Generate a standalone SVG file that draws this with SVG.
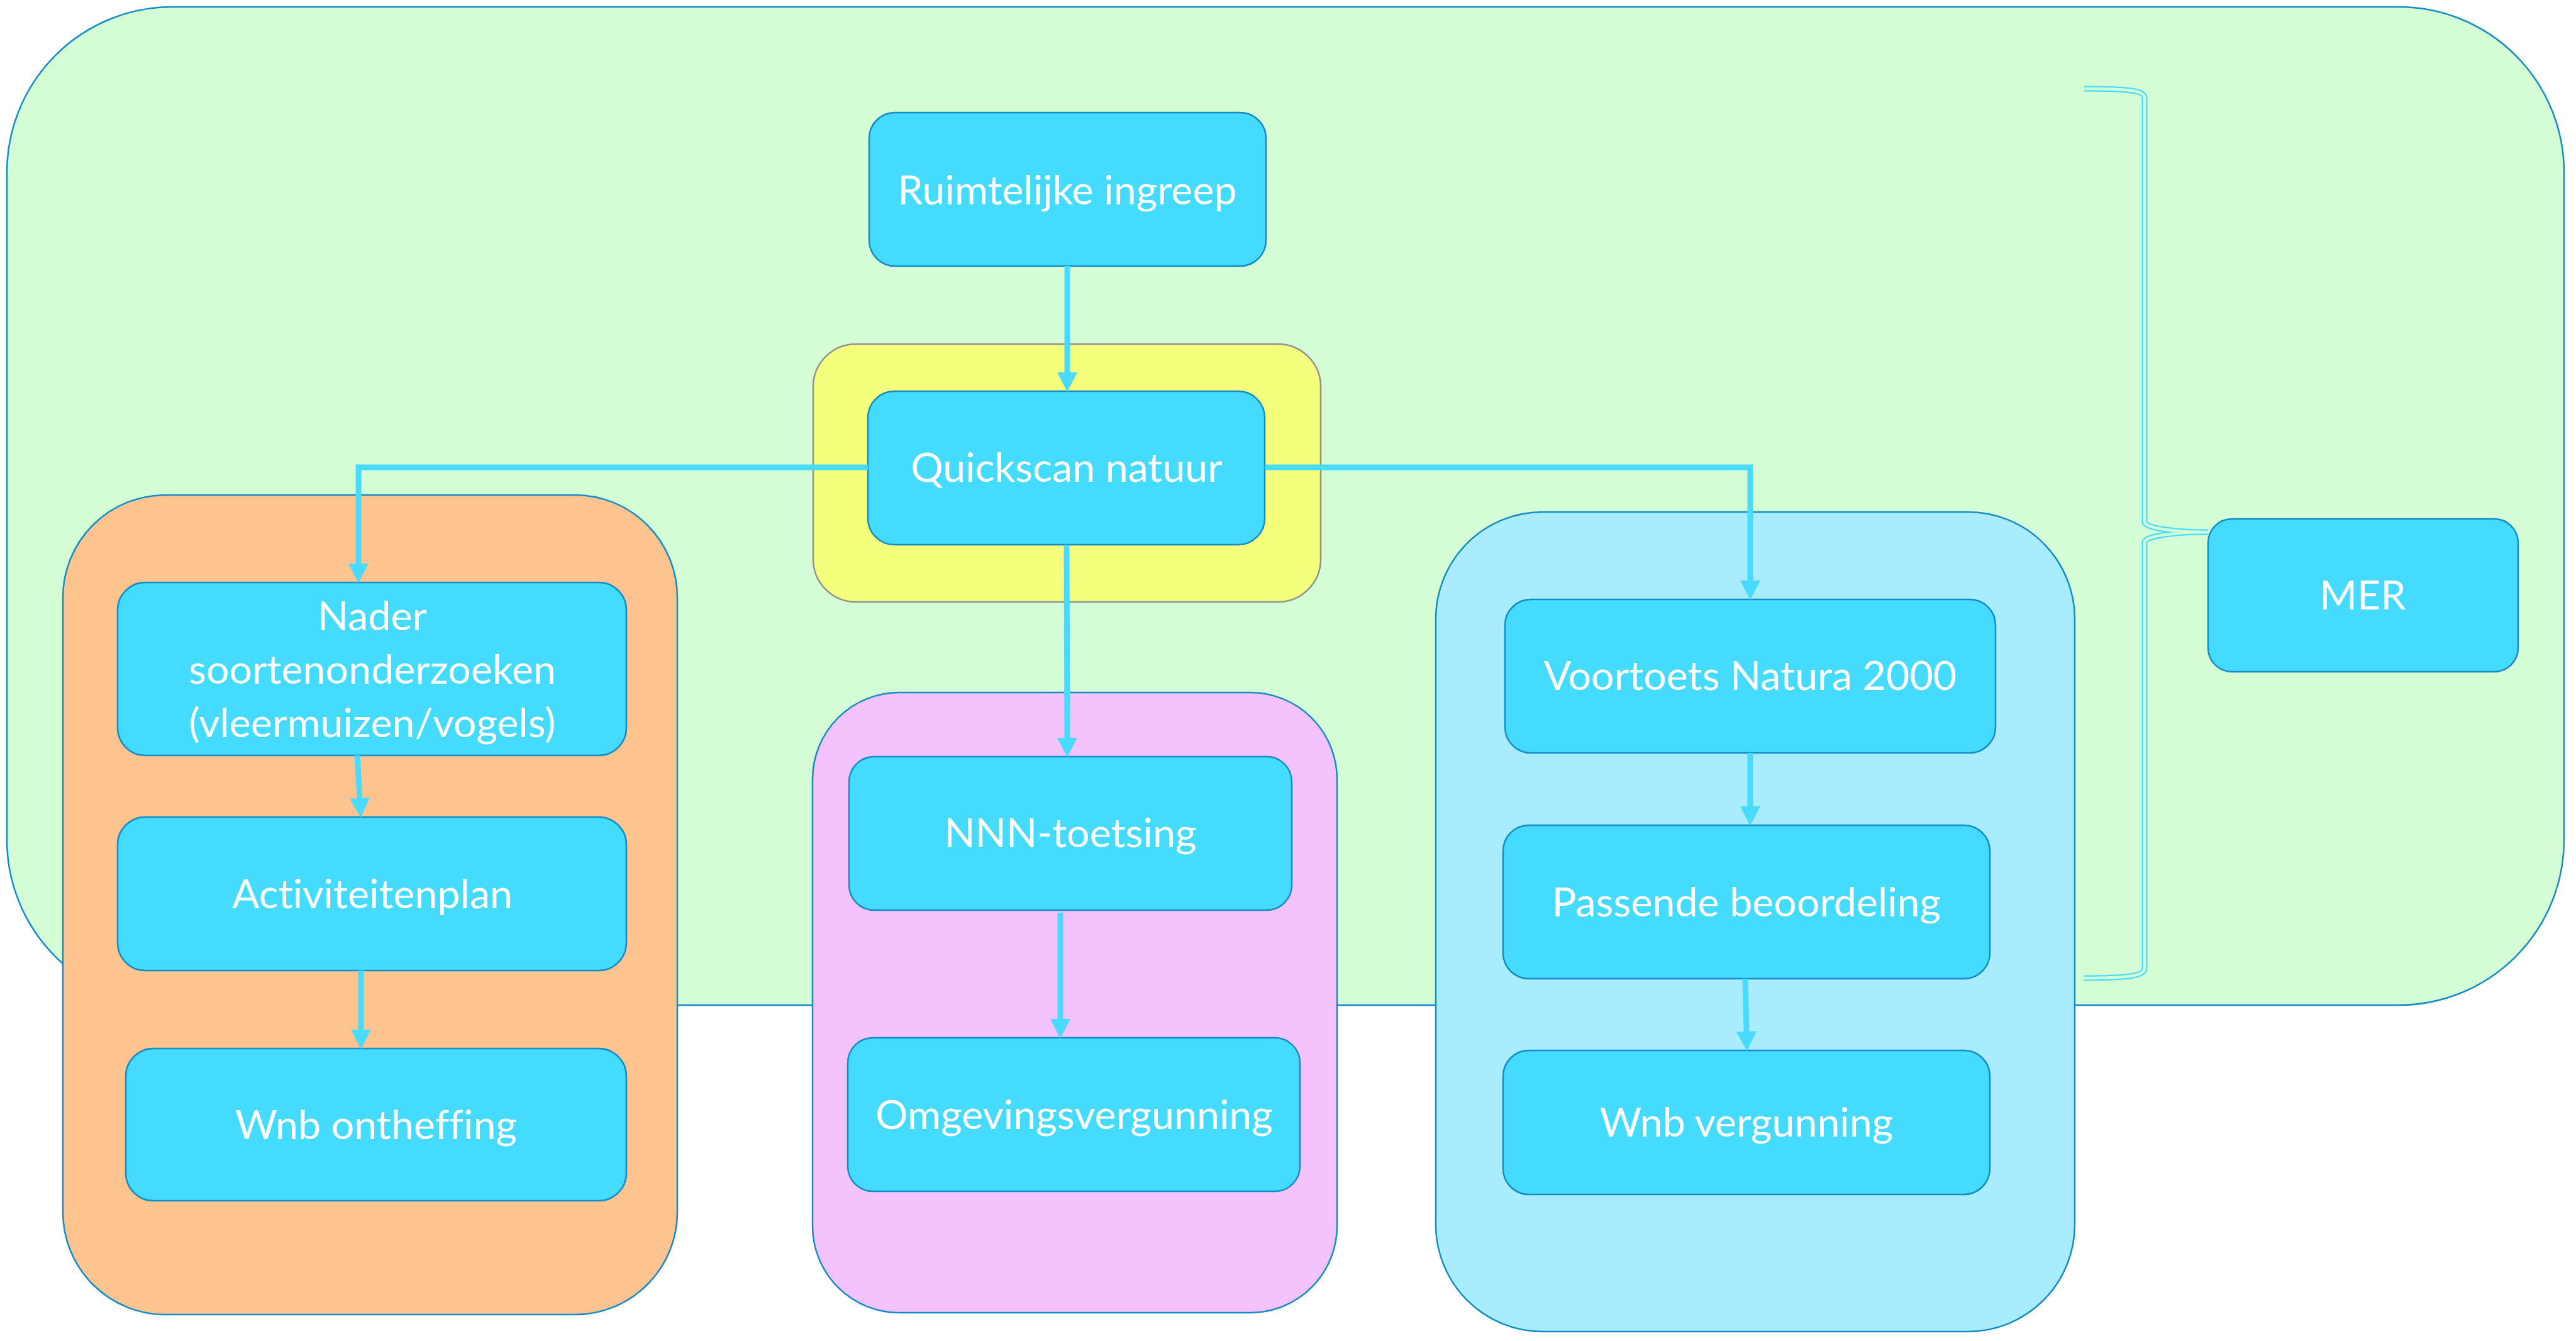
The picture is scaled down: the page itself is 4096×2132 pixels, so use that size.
<svg xmlns="http://www.w3.org/2000/svg" width="4096" height="2132" viewBox="0 0 4096 2132">
<defs>
<style>
.cont{stroke:#148cc8;stroke-width:2.5}
.node{fill:#45dbff;stroke:#148cc8;stroke-width:2.5}
.lbl{font-family:Lato,"Liberation Sans",sans-serif;font-size:64.5px;fill:#ffffff;text-anchor:middle;font-variant-ligatures:none}
.conn{fill:none;stroke:#48dbff;stroke-width:9}
</style>
<marker id="ah" markerUnits="userSpaceOnUse" markerWidth="32" markerHeight="32" refX="0" refY="15.5" orient="auto" viewBox="0 0 30 31">
<path d="M0,0 L30,15.5 L0,31 Z" fill="#48dbff"/>
</marker>
</defs>
<rect width="4096" height="2132" fill="#ffffff"/>
<g id="mer-container">
<rect class="cont" x="11" y="11" width="4066" height="1587" rx="263" ry="263" fill="#d4fdd6"/>
</g>
<g id="brace">
<path d="M3314,141 C3390,141 3410,145 3410,155 L3410,830 C3410,840 3460,846 3511,846 C3460,846 3410,852 3410,862 L3410,1540 C3410,1550 3390,1555 3314,1555" fill="none" stroke="#48dbff" stroke-width="9"/>
<path d="M3314,141 C3390,141 3410,145 3410,155 L3410,830 C3410,840 3460,846 3511,846 C3460,846 3410,852 3410,862 L3410,1540 C3410,1550 3390,1555 3314,1555" fill="none" stroke="#d4fdd6" stroke-width="4.5"/>
</g>
<g id="group-soorten">
<rect class="cont" x="100" y="787" width="977" height="1303" rx="163" ry="163" fill="#fec490"/>
</g>
<g id="group-nnn">
<rect class="cont" x="1292" y="1101" width="834" height="986" rx="138" ry="138" fill="#f4c2fc"/>
</g>
<g id="group-natura">
<rect class="cont" x="2283" y="814" width="1016" height="1303" rx="170" ry="170" fill="#a8ecfe"/>
</g>
<g id="group-quickscan">
<rect x="1293" y="547" width="807" height="410" rx="68" ry="68" fill="#f4ff7c" stroke="#929292" stroke-width="2.5"/>
</g>
<g id="ruimtelijke-ingreep">
<rect class="node" x="1382" y="179" width="631" height="244" rx="41" ry="41"/>
<text class="lbl" x="1697" y="325">Ruimtelijke ingreep</text>
</g>
<g id="quickscan-natuur">
<rect class="node" x="1380" y="622" width="631" height="244" rx="42" ry="42"/>
<text class="lbl" x="1696" y="766">Quickscan natuur</text>
</g>
<g id="nader-soortenonderzoeken">
<rect class="node" x="187" y="926" width="809" height="275" rx="44" ry="44"/>
<text class="lbl" x="592" y="1002">Nader</text>
<text class="lbl" x="592" y="1087">soortenonderzoeken</text>
<text class="lbl" x="592" y="1172">(vleermuizen/vogels)</text>
</g>
<g id="activiteitenplan">
<rect class="node" x="187" y="1299" width="809" height="244" rx="44" ry="44"/>
<text class="lbl" x="592" y="1444">Activiteitenplan</text>
</g>
<g id="wnb-ontheffing">
<rect class="node" x="200" y="1667" width="796" height="242" rx="44" ry="44"/>
<text class="lbl" x="598" y="1811">Wnb ontheffing</text>
</g>
<g id="nnn-toetsing">
<rect class="node" x="1350" y="1203" width="704" height="244" rx="40" ry="40"/>
<text class="lbl" x="1702" y="1347">NNN-toetsing</text>
</g>
<g id="omgevingsvergunning">
<rect class="node" x="1348" y="1650" width="719" height="244" rx="40" ry="40"/>
<text class="lbl" x="1708" y="1795">Omgevingsvergunning</text>
</g>
<g id="voortoets-natura-2000">
<rect class="node" x="2393" y="953" width="780" height="244" rx="41" ry="41"/>
<text class="lbl" x="2783" y="1097">Voortoets Natura 2000</text>
</g>
<g id="passende-beoordeling">
<rect class="node" x="2390" y="1312" width="774" height="244" rx="41" ry="41"/>
<text class="lbl" x="2777" y="1457">Passende beoordeling</text>
</g>
<g id="wnb-vergunning">
<rect class="node" x="2390" y="1670" width="774" height="229" rx="41" ry="41"/>
<text class="lbl" x="2777" y="1807">Wnb vergunning</text>
</g>
<g id="mer">
<rect class="node" x="3511" y="825" width="493" height="243" rx="38" ry="38"/>
<text class="lbl" x="3757" y="969">MER</text>
</g>
<g id="connectors">
<path class="conn" d="M1697,423 L1697,592" marker-end="url(#ah)"/>
<path class="conn" d="M1380,743 L570,743 L570,896" marker-end="url(#ah)"/>
<path class="conn" d="M1696,866 L1697,1173" marker-end="url(#ah)"/>
<path class="conn" d="M2011,743 L2783,743 L2783,923" marker-end="url(#ah)"/>
<path class="conn" d="M568,1201 L572,1269" marker-end="url(#ah)"/>
<path class="conn" d="M574,1543 L574,1637" marker-end="url(#ah)"/>
<path class="conn" d="M1686,1451 L1686,1620" marker-end="url(#ah)"/>
<path class="conn" d="M2783,1197 L2783,1282" marker-end="url(#ah)"/>
<path class="conn" d="M2775,1556 L2777,1640" marker-end="url(#ah)"/>
</g>
</svg>
